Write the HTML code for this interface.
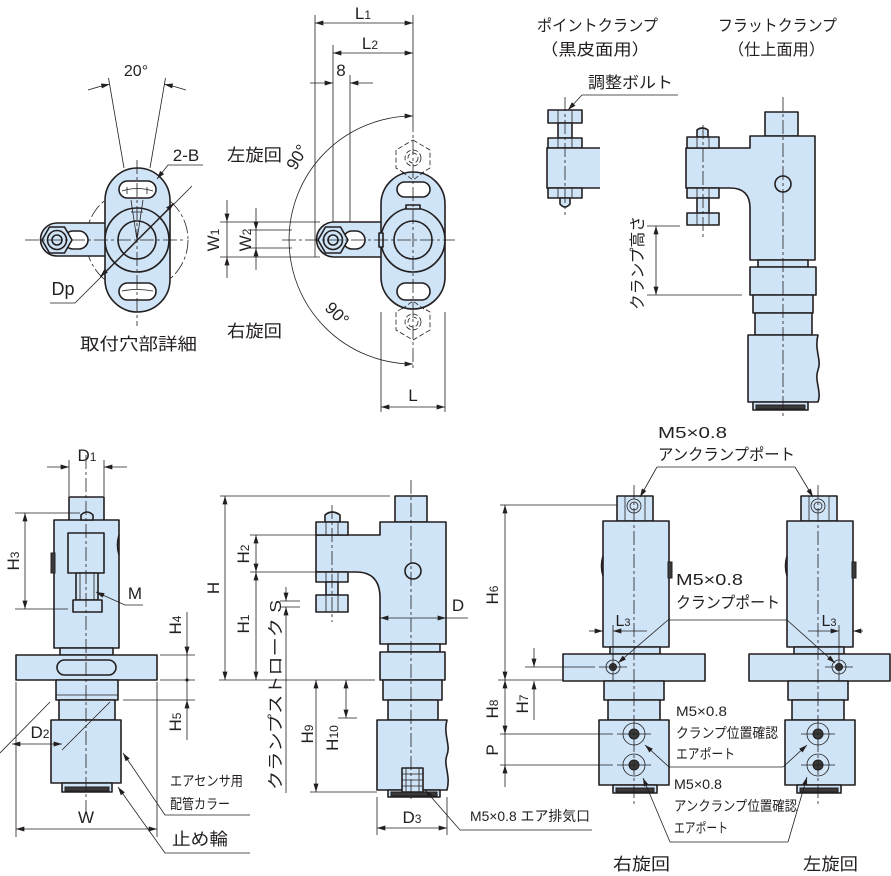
<!DOCTYPE html>
<html><head><meta charset="utf-8">
<style>
html,body{margin:0;padding:0;background:#fff}
svg{display:block}
.f{fill:#cfe4f6;stroke:#231f20;stroke-width:1.6;stroke-linejoin:round}
.g{fill:#cfe4f6;stroke:none}
.w{fill:#fff;stroke:#231f20;stroke-width:1.6}
.k{fill:#3a3a3a;stroke:#231f20;stroke-width:1}
.t{fill:none;stroke:#231f20;stroke-width:0.8}
.s{fill:none;stroke:#231f20;stroke-width:1.6}
.c{fill:none;stroke:#231f20;stroke-width:0.8;stroke-dasharray:14 3 3 3}
.d{fill:none;stroke:#231f20;stroke-width:0.8;stroke-dasharray:5 2.5}
text{font-family:"Liberation Sans","Noto Sans CJK JP",sans-serif;fill:#231f20}
</style></head>
<body>
<svg width="891" height="876" viewBox="0 0 891 876" xmlns="http://www.w3.org/2000/svg">
<defs>
<marker id="a" viewBox="0 0 10 6" refX="10" refY="3" markerWidth="9" markerHeight="5" markerUnits="userSpaceOnUse" orient="auto-start-reverse"><path d="M0,0 L10,3 L0,6z" fill="#231f20"/></marker>
</defs>

<!-- ================= TOP LEFT: 取付穴部詳細 ================= -->
<circle cx="137" cy="240" r="51" class="c"/>
<path class="f" d="M112,223 L57,223 A16.5,16.5 0 0 0 57,256 L112,256 Z"/>
<rect class="w" x="64" y="231" width="24" height="18" rx="9"/>
<polygon class="f" points="42,240 49.5,227 64.5,227 72,240 64.5,253 49.5,253"/>
<circle cx="57" cy="240" r="9.5" class="f" stroke-width="2.6"/>
<circle cx="57" cy="240" r="5" class="f"/>
<rect class="f" x="105" y="168" width="65" height="144" rx="32.5"/>
<rect class="w" x="119" y="181" width="37" height="17" rx="8.5"/>
<rect class="w" x="119" y="283" width="37" height="17" rx="8.5"/>
<path class="t" d="M122,191 Q137,186 153,191 M127,187 v7 M147,187 v7"/>
<path class="t" d="M122,291 Q137,288 153,291"/>
<circle cx="137" cy="240" r="32" class="f" stroke-width="2.3"/>
<circle cx="137" cy="240" r="19" class="f" stroke-width="2.3"/>
<path class="t" d="M137,240 L131,200 M137,240 L143,200 M131,212 L143,212"/>
<path class="c" d="M25,240 L183,240 M137,160 L137,326"/>
<path class="t" d="M124,168 L108.5,78 M150,168 L165.5,78"/>
<path class="t" d="M88,90 A158,158 0 0 1 109.6,84.4" marker-end="url(#a)"/>
<path class="t" d="M186,90 A158,158 0 0 0 164.4,84.4" marker-end="url(#a)"/>
<text x="136" y="76" font-size="16" text-anchor="middle">20°</text>
<path class="t" d="M50,303 L75,303 L192,186"/>
<path class="t" d="M137,240 L100.2,276.8" marker-end="url(#a)"/>
<path class="t" d="M137,240 L173.8,203.2" marker-end="url(#a)"/>
<text x="63" y="295" font-size="18" text-anchor="middle">Dp</text>
<path class="t" d="M203,165 L168,165 L157,179" marker-end="url(#a)"/>
<text x="186" y="161" font-size="17" text-anchor="middle">2-B</text>
<text x="80" y="350" font-size="17" textLength="117" lengthAdjust="spacingAndGlyphs">取付穴部詳細</text>

<!-- ================= TOP MIDDLE ================= -->
<polygon class="d" points="413,140 430,150 430,168 413,178 396,168 396,150"/>
<circle cx="413" cy="158" r="8" class="d"/><circle cx="413" cy="158" r="5" class="d"/>
<polygon class="d" points="413,302 430,312 430,330 413,340 396,330 396,312"/>
<circle cx="413" cy="322" r="8" class="d"/><circle cx="413" cy="322" r="5" class="d"/>
<path class="t" d="M315,15 L315,257 M333,45 L333,257 M350,75 L350,257 M413,15 L413,118"/>
<path class="f" d="M386,222 L334,222 A17.5,17.5 0 0 0 334,257 L386,257 Z"/>
<rect class="w" x="343" y="231" width="22" height="18" rx="9"/>
<polygon class="f" points="318,240 325.5,227 340.5,227 348,240 340.5,253 325.5,253"/>
<circle cx="333" cy="240" r="9.5" class="f" stroke-width="2.6"/>
<circle cx="333" cy="240" r="5" class="f"/>
<rect class="f" x="381" y="172" width="64" height="137" rx="32"/>
<rect class="w" x="397" y="182" width="33" height="15" rx="7.5"/>
<rect class="w" x="397" y="283" width="33" height="17" rx="8.5"/>
<path class="d" d="M402,172 L413,180 L424,172 M402,309 L413,301 L424,309"/>
<circle cx="413" cy="240" r="32" class="f" stroke-width="2.3"/>
<circle cx="413" cy="240" r="19" class="f" stroke-width="2.3"/>
<rect class="f" x="406" y="205" width="14" height="4" stroke-width="1"/>
<rect class="f" x="379" y="233" width="4" height="14" stroke-width="1"/>
<path class="c" d="M282,240 L455,240 M413,118 L413,368"/>
<!-- dims -->
<path class="t" d="M315,23 L413,23" marker-start="url(#a)" marker-end="url(#a)"/>
<text x="363" y="19" font-size="17" text-anchor="middle">L<tspan font-size="12">1</tspan></text>
<path class="t" d="M333,53 L413,53" marker-start="url(#a)" marker-end="url(#a)"/>
<text x="370" y="49" font-size="17" text-anchor="middle">L<tspan font-size="12">2</tspan></text>
<path class="t" d="M310,83 L333,83" marker-end="url(#a)"/>
<path class="t" d="M373,83 L350,83" marker-end="url(#a)"/>
<text x="341" y="76" font-size="17" text-anchor="middle">8</text>
<path class="t" d="M220,222 L320,222 M220,257 L320,257 M248,230 L292,230 M248,248 L292,248"/>
<path class="t" d="M227,200 L227,222" marker-end="url(#a)"/>
<path class="t" d="M227,278 L227,257" marker-end="url(#a)"/>
<path class="t" d="M227,222 L227,257"/>
<path class="t" d="M256,208 L256,230" marker-end="url(#a)"/>
<path class="t" d="M256,270 L256,248" marker-end="url(#a)"/>
<path class="t" d="M256,230 L256,248"/>
<text transform="translate(219,240) rotate(-90)" font-size="17" text-anchor="middle">W<tspan font-size="12">1</tspan></text>
<text transform="translate(251,240) rotate(-90)" font-size="17" text-anchor="middle">W<tspan font-size="12">2</tspan></text>
<path class="t" d="M413,116 A124,124 0 0 0 413,364" marker-start="url(#a)" marker-end="url(#a)"/>
<text transform="translate(302,160) rotate(-60)" font-size="17" text-anchor="middle">90°</text>
<text transform="translate(333,318) rotate(45)" font-size="17" text-anchor="middle">90°</text>
<text x="227" y="161" font-size="17" textLength="55" lengthAdjust="spacingAndGlyphs">左旋回</text>
<text x="227" y="337" font-size="17" textLength="55" lengthAdjust="spacingAndGlyphs">右旋回</text>
<path class="t" d="M381,312 L381,412 M445,312 L445,412"/>
<path class="t" d="M381,407 L445,407" marker-start="url(#a)" marker-end="url(#a)"/>
<text x="413" y="401" font-size="17" text-anchor="middle">L</text>

<!-- ================= TOP RIGHT ================= -->
<text x="537" y="31" font-size="16" textLength="121" lengthAdjust="spacingAndGlyphs">ポイントクランプ</text>
<text x="540" y="55" font-size="16" textLength="110" lengthAdjust="spacingAndGlyphs">（黒皮面用）</text>
<text x="718" y="31" font-size="16" textLength="119" lengthAdjust="spacingAndGlyphs">フラットクランプ</text>
<text x="728" y="55" font-size="16" textLength="97" lengthAdjust="spacingAndGlyphs">（仕上面用）</text>
<text x="588" y="88" font-size="16" textLength="85" lengthAdjust="spacingAndGlyphs">調整ボルト</text>
<path class="t" d="M678,95 L582,95 L568,110" marker-end="url(#a)"/>
<!-- point clamp -->
<rect class="f" x="548" y="110" width="34" height="13"/>
<path class="t" d="M558,110 v13 M572,110 v13"/>
<rect class="f" x="558" y="123" width="14" height="15"/>
<rect class="f" x="548" y="138" width="34" height="10"/>
<path class="t" d="M558,138 v10 M572,138 v10"/>
<rect class="g" x="547" y="148" width="53" height="40"/>
<path class="s" d="M600,148 L547,148 L547,188 L600,188"/>
<rect class="f" x="548" y="188" width="34" height="10"/>
<path class="t" d="M558,188 v10 M572,188 v10"/>
<path class="f" d="M560,198 L570,198 L570,204 Q565,210 560,204 Z"/>
<path class="c" d="M565,97 L565,215"/>
<!-- flat clamp -->
<rect class="f" x="765" y="112" width="33" height="24"/>
<path class="f" d="M686,148 L750,148 L750,136 L815,136 L815,260 L750,260 L750,208 Q750,188 730,188 L686,188 Z"/>
<path class="f" d="M697,137 L697,130 Q702,126 708,130 L708,137 Z"/>
<rect class="f" x="687" y="137" width="32" height="11"/>
<path class="t" d="M697,137 v11 M709,137 v11"/>
<rect class="f" x="687" y="188" width="32" height="10"/>
<path class="t" d="M697,188 v10 M709,188 v10"/>
<rect class="f" x="697" y="198" width="12" height="15"/>
<rect class="f" x="687" y="213" width="32" height="12"/>
<path class="t" d="M697,213 v12 M709,213 v12"/>
<path class="c" d="M703,125 L703,238"/>
<circle cx="783" cy="184" r="8" class="f"/>
<rect class="f" x="758" y="260" width="50" height="7"/>
<rect class="f" x="750" y="267" width="66" height="28"/>
<rect class="f" x="753" y="295" width="60" height="18"/>
<rect class="f" x="755" y="313" width="57" height="22"/>
<path class="f" d="M748,335 L818,335 C814,350 822,360 818,370 C814,380 822,392 818,402 L748,402 Z"/>
<rect class="f" x="753" y="402" width="55" height="8"/>
<rect class="k" x="756" y="405" width="49" height="4"/>
<path class="c" d="M783,97 L783,418"/>
<path class="t" d="M647,226 L680,226 M647,295 L742,295"/>
<path class="t" d="M656,226 L656,295" marker-start="url(#a)" marker-end="url(#a)"/>
<text transform="translate(643,263) rotate(-90)" font-size="16" text-anchor="middle" textLength="94" lengthAdjust="spacingAndGlyphs">クランプ高さ</text>

<!-- ================= BOTTOM LEFT ================= -->
<path class="t" d="M69,460 L69,496 M104,460 L104,496"/>
<path class="t" d="M47,467 L69,467" marker-end="url(#a)"/>
<path class="t" d="M127,467 L104,467" marker-end="url(#a)"/>
<text x="87" y="461" font-size="17" text-anchor="middle">D<tspan font-size="12">1</tspan></text>
<rect class="f" x="69" y="497" width="35" height="24"/>
<rect class="f" x="54" y="520" width="65" height="128"/>
<path class="f" d="M81,520 L81,515 Q87,509 93,515 L93,520 Z"/>
<rect class="f" x="68" y="533" width="36" height="40"/>
<rect class="f" x="76" y="573" width="22" height="27"/>
<path class="t" d="M80,573 v27 M94,573 v27"/>
<rect class="f" x="73" y="600" width="29" height="12"/>
<rect class="k" x="51" y="553" width="4" height="20"/>
<path class="s" d="M119,535 Q116,545 119,555"/>
<rect class="f" x="60" y="648" width="53" height="7"/>
<rect class="f" x="16" y="655" width="141" height="25"/>
<rect class="f" x="57" y="660" width="59" height="15" rx="7.5" stroke-width="2.2"/>
<rect class="f" x="56" y="680" width="62" height="20"/>
<path class="t" d="M56,695 L118,695"/>
<rect class="f" x="59" y="700" width="56" height="20"/>
<rect class="f" x="51" y="720" width="70" height="63"/>
<rect class="f" x="62" y="783" width="50" height="9"/>
<rect class="k" x="65" y="787" width="44" height="4"/>
<path class="c" d="M86,455 L86,815"/>
<path class="t" d="M15,513 L80,513 M15,609 L68,609"/>
<path class="t" d="M25,513 L25,609" marker-start="url(#a)" marker-end="url(#a)"/>
<text transform="translate(19,561) rotate(-90)" font-size="17" text-anchor="middle">H<tspan font-size="12">3</tspan></text>
<path class="t" d="M143,605 L125,605 L96,592" marker-end="url(#a)"/>
<text x="135" y="599" font-size="17" text-anchor="middle">M</text>
<path class="t" d="M160,655 L195,655 M160,680 L195,680 M123,700 L195,700"/>
<path class="t" d="M187,612 L187,655" marker-end="url(#a)"/>
<path class="t" d="M187,740 L187,700" marker-end="url(#a)"/>
<path class="t" d="M187,655 L187,700"/>
<circle cx="187" cy="680" r="1.6" fill="#231f20"/>
<text transform="translate(181,625) rotate(-90)" font-size="17" text-anchor="middle">H<tspan font-size="12">4</tspan></text>
<text transform="translate(181,722) rotate(-90)" font-size="17" text-anchor="middle">H<tspan font-size="12">5</tspan></text>
<path class="t" d="M0,753 L50,702 M62,750 L110,702"/>
<path class="t" d="M12,744 L62,744" marker-start="url(#a)" marker-end="url(#a)"/>
<text x="40" y="738" font-size="17" text-anchor="middle">D<tspan font-size="12">2</tspan></text>
<path class="t" d="M16,682 L16,837 M157,682 L157,837"/>
<path class="t" d="M16,829 L157,829" marker-start="url(#a)" marker-end="url(#a)"/>
<text x="86" y="823" font-size="17" text-anchor="middle">W</text>
<text x="170" y="786" font-size="14" textLength="73" lengthAdjust="spacingAndGlyphs">エアセンサ用</text>
<text x="170" y="809" font-size="14" textLength="60" lengthAdjust="spacingAndGlyphs">配管カラー</text>
<path class="t" d="M250,815 L165,815 L123,753" marker-end="url(#a)"/>
<text x="172" y="845" font-size="17" textLength="56" lengthAdjust="spacingAndGlyphs">止め輪</text>
<path class="t" d="M250,853 L165,853 L118,787" marker-end="url(#a)"/>

<!-- ================= BOTTOM MIDDLE ================= -->
<path class="t" d="M220,496 L390,496 M219,680 L375,680"/>
<path class="t" d="M225,496 L225,680" marker-start="url(#a)" marker-end="url(#a)"/>
<text transform="translate(219,588) rotate(-90)" font-size="17" text-anchor="middle">H</text>
<path class="t" d="M250,535 L317,535 M250,572 L320,572"/>
<path class="t" d="M256,535 L256,572" marker-start="url(#a)" marker-end="url(#a)"/>
<path class="t" d="M256,572 L256,680" marker-start="url(#a)" marker-end="url(#a)"/>
<text transform="translate(249,554) rotate(-90)" font-size="17" text-anchor="middle">H<tspan font-size="12">2</tspan></text>
<text transform="translate(249,624) rotate(-90)" font-size="17" text-anchor="middle">H<tspan font-size="12">1</tspan></text>
<rect class="f" x="395" y="496" width="32" height="26"/>
<path class="f" d="M316,535 L380,535 L380,522 L446,522 L446,644 L380,644 L380,598 Q380,572 356,572 L316,572 Z"/>
<path class="f" d="M325,522 L325,515 Q332,509 340,515 L340,522 Z"/>
<rect class="f" x="316" y="522" width="32" height="13"/>
<path class="t" d="M326,522 v13 M338,522 v13"/>
<rect class="f" x="316" y="572" width="32" height="10"/>
<path class="t" d="M326,572 v10 M338,572 v10"/>
<rect class="f" x="326" y="582" width="12" height="13"/>
<rect class="f" x="316" y="595" width="32" height="17"/>
<path class="t" d="M326,595 v17 M338,595 v17"/>
<path class="c" d="M332,505 L332,622"/>
<circle cx="413" cy="571" r="8" class="f"/>
<rect class="f" x="388" y="644" width="52" height="8"/>
<rect class="f" x="380" y="652" width="65" height="28"/>
<rect class="f" x="383" y="680" width="59" height="20"/>
<rect class="f" x="388" y="700" width="50" height="20"/>
<path class="f" d="M377,720 L447,720 C443,735 451,745 447,755 C443,765 451,775 447,790 L377,790 Z"/>
<rect class="f" x="388" y="790" width="52" height="7"/>
<rect class="k" x="391" y="792" width="46" height="4"/>
<rect class="f" x="402" y="768" width="21" height="24"/>
<path class="t" d="M406,768 v24 M419,768 v24 M402,774 h21 M402,780 h21 M402,786 h21"/>
<path class="c" d="M411,480 L411,800"/>
<path class="t" d="M380,618 L446,618" marker-start="url(#a)" marker-end="url(#a)"/>
<path class="t" d="M446,618 L468,618"/>
<text x="458" y="611" font-size="17" text-anchor="middle">D</text>
<path class="t" d="M280,601 L300,601 M280,607 L300,607"/>
<path class="t" d="M286,587 L286,601" marker-end="url(#a)"/>
<path class="t" d="M286,793 L286,607" marker-end="url(#a)"/>
<text transform="translate(281,695) rotate(-90)" font-size="16" text-anchor="middle" textLength="190" lengthAdjust="spacingAndGlyphs">クランプストローク S</text>
<path class="t" d="M310,792 L377,792 M338,718 L357,718"/>
<path class="t" d="M316,680 L316,792" marker-start="url(#a)" marker-end="url(#a)"/>
<path class="t" d="M346,680 L346,718" marker-start="url(#a)" marker-end="url(#a)"/>
<text transform="translate(313,734) rotate(-90)" font-size="17" text-anchor="middle">H<tspan font-size="12">9</tspan></text>
<text transform="translate(338,738) rotate(-90)" font-size="17" text-anchor="middle">H<tspan font-size="12">10</tspan></text>
<path class="t" d="M377,797 L377,835 M447,797 L447,835"/>
<path class="t" d="M377,828 L447,828" marker-start="url(#a)" marker-end="url(#a)"/>
<text x="412" y="823" font-size="17" text-anchor="middle">D<tspan font-size="12">3</tspan></text>
<path class="t" d="M592,830 L460,830 L425,790" marker-end="url(#a)"/>
<text x="470" y="821" font-size="14" textLength="120" lengthAdjust="spacingAndGlyphs">M5×0.8 エア排気口</text>

<!-- ================= BOTTOM RIGHT ================= -->
<g id="unitR">
<rect class="f" x="617" y="496" width="36" height="25"/>
<path class="t" d="M625,496 v25 M645,496 v25"/>
<circle cx="634" cy="506" r="7" class="t"/><circle cx="634" cy="506" r="4" class="t"/>
<rect class="f" x="603" y="521" width="66" height="126"/>
<rect class="k" x="668" y="562" width="4" height="16"/>
<path class="s" d="M603,556 Q600,566 603,576"/>
<rect class="f" x="610" y="647" width="50" height="7"/>
<rect class="f" x="563" y="654" width="142" height="27"/>
<rect class="f" x="604" y="681" width="60" height="19"/>
<rect class="f" x="608" y="700" width="52" height="20"/>
<rect class="f" x="599" y="720" width="70" height="65"/>
<rect class="f" x="613" y="785" width="44" height="8"/>
<rect class="k" x="616" y="788" width="38" height="4"/>
<circle cx="634" cy="734" r="11" class="t"/><circle cx="634" cy="734" r="5" class="k"/>
<circle cx="634" cy="765" r="11" class="t"/><circle cx="634" cy="765" r="5" class="k"/>
<path class="t" d="M617,734 h34 M617,765 h34"/>
<path class="c" d="M634,485 L634,805"/>
</g>
<circle cx="613" cy="667" r="7" class="t"/><circle cx="613" cy="667" r="3.5" class="k"/>
<path class="t" d="M599,667 h28 M613,653 v28"/>

<g transform="translate(184,0)">
<rect class="f" x="617" y="496" width="36" height="25"/>
<path class="t" d="M625,496 v25 M645,496 v25"/>
<circle cx="634" cy="506" r="7" class="t"/><circle cx="634" cy="506" r="4" class="t"/>
<rect class="f" x="603" y="521" width="66" height="126"/>
<rect class="k" x="668" y="562" width="4" height="16"/>
<path class="s" d="M603,556 Q600,566 603,576"/>
<rect class="f" x="610" y="647" width="50" height="7"/>
<rect class="f" x="565" y="654" width="141" height="27"/>
<rect class="f" x="604" y="681" width="60" height="19"/>
<rect class="f" x="608" y="700" width="52" height="20"/>
<rect class="f" x="601" y="720" width="70" height="65"/>
<rect class="f" x="613" y="785" width="44" height="8"/>
<rect class="k" x="616" y="788" width="38" height="4"/>
<circle cx="634" cy="734" r="11" class="t"/><circle cx="634" cy="734" r="5" class="k"/>
<circle cx="634" cy="765" r="11" class="t"/><circle cx="634" cy="765" r="5" class="k"/>
<path class="t" d="M617,734 h34 M617,765 h34"/>
<path class="c" d="M634,485 L634,805"/>
</g>
<circle cx="839" cy="667" r="7" class="t"/><circle cx="839" cy="667" r="3.5" class="k"/>
<path class="t" d="M825,667 h28 M839,653 v28"/>

<!-- labels & leaders right -->
<text x="658" y="438" font-size="16" textLength="69" lengthAdjust="spacingAndGlyphs">M5×0.8</text>
<text x="658" y="460" font-size="16" textLength="137" lengthAdjust="spacingAndGlyphs">アンクランプポート</text>
<path class="t" d="M657,467 L795,467"/>
<path class="t" d="M657,467 L640,497" marker-end="url(#a)"/>
<path class="t" d="M795,467 L813,497" marker-end="url(#a)"/>
<text x="676" y="585" font-size="16" textLength="67" lengthAdjust="spacingAndGlyphs">M5×0.8</text>
<text x="676" y="608" font-size="16" textLength="104" lengthAdjust="spacingAndGlyphs">クランプポート</text>
<path class="t" d="M668,620 L787,620"/>
<path class="t" d="M668,620 L618,663" marker-end="url(#a)"/>
<path class="t" d="M787,620 L835,663" marker-end="url(#a)"/>
<!-- L3 -->
<path class="t" d="M613,625 L613,660 M839,625 L839,660"/>
<path class="t" d="M589,631 L603,631" marker-end="url(#a)"/>
<path class="t" d="M647,631 L613,631" marker-end="url(#a)"/>
<path class="t" d="M808,631 L839,631" marker-end="url(#a)"/>
<path class="t" d="M863,631 L853,631" marker-end="url(#a)"/>
<text x="623" y="626" font-size="16" text-anchor="middle">L<tspan font-size="11">3</tspan></text>
<text x="829" y="626" font-size="16" text-anchor="middle">L<tspan font-size="11">3</tspan></text>
<!-- H6 H7 H8 P -->
<path class="t" d="M500,505 L617,505 M498,680 L563,680 M500,734 L613,734 M500,765 L613,765 M525,667 L595,667"/>
<path class="t" d="M505,505 L505,680" marker-start="url(#a)" marker-end="url(#a)"/>
<path class="t" d="M505,680 L505,734" marker-start="url(#a)" marker-end="url(#a)"/>
<path class="t" d="M505,734 L505,765"/>
<path class="t" d="M505,787 L505,765" marker-end="url(#a)"/>
<text transform="translate(498,595) rotate(-90)" font-size="17" text-anchor="middle">H<tspan font-size="12">6</tspan></text>
<text transform="translate(498,709) rotate(-90)" font-size="17" text-anchor="middle">H<tspan font-size="12">8</tspan></text>
<text transform="translate(498,750) rotate(-90)" font-size="17" text-anchor="middle">P</text>
<path class="t" d="M534,648 L534,667" marker-end="url(#a)"/>
<path class="t" d="M534,720 L534,681" marker-end="url(#a)"/>
<text transform="translate(528,704) rotate(-90)" font-size="17" text-anchor="middle">H<tspan font-size="12">7</tspan></text>
<!-- block port leaders -->
<text x="676" y="716" font-size="14" textLength="51" lengthAdjust="spacingAndGlyphs">M5×0.8</text>
<text x="676" y="738" font-size="14" textLength="102" lengthAdjust="spacingAndGlyphs">クランプ位置確認</text>
<text x="676" y="759" font-size="14" textLength="59" lengthAdjust="spacingAndGlyphs">エアポート</text>
<path class="t" d="M669,767 L783,767"/>
<path class="t" d="M669,767 L645,745" marker-end="url(#a)"/>
<path class="t" d="M783,767 L807,745" marker-end="url(#a)"/>
<text x="674" y="789" font-size="14" textLength="48" lengthAdjust="spacingAndGlyphs">M5×0.8</text>
<text x="674" y="811" font-size="14" textLength="123" lengthAdjust="spacingAndGlyphs">アンクランプ位置確認</text>
<text x="674" y="833" font-size="14" textLength="54" lengthAdjust="spacingAndGlyphs">エアポート</text>
<path class="t" d="M670,842 L788,842"/>
<path class="t" d="M670,842 L643,778" marker-end="url(#a)"/>
<path class="t" d="M788,842 L807,777" marker-end="url(#a)"/>
<text x="613" y="870" font-size="17" textLength="57" lengthAdjust="spacingAndGlyphs">右旋回</text>
<text x="803" y="870" font-size="17" textLength="55" lengthAdjust="spacingAndGlyphs">左旋回</text>
</svg>
</body></html>
